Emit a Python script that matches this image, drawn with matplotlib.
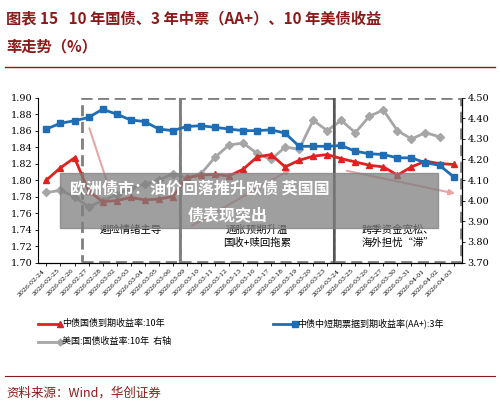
import matplotlib
matplotlib.use("Agg")
import matplotlib.pyplot as plt
from matplotlib.patches import Rectangle, FancyArrowPatch

plt.rcParams['font.family'] = ['Noto Sans CJK SC', 'DejaVu Sans']

dates = ["2026-02-24","2026-02-25","2026-02-26","2026-02-27","2026-02-28","2026-03-02","2026-03-03",
         "2026-03-04","2026-03-05","2026-03-06","2026-03-09","2026-03-10","2026-03-11","2026-03-12",
         "2026-03-13","2026-03-16","2026-03-17","2026-03-18","2026-03-19","2026-03-20","2026-03-23",
         "2026-03-24","2026-03-25","2026-03-26","2026-03-27","2026-03-30","2026-03-31","2026-04-01",
         "2026-04-02","2026-04-03"]
cn10y = [1.800,1.815,1.827,1.787,1.774,1.775,1.779,1.776,1.777,1.780,1.803,1.806,1.807,1.805,
         1.813,1.828,1.831,1.816,1.824,1.829,1.831,1.826,1.822,1.818,1.816,1.806,1.816,1.823,1.820,1.819]
aa3y = [1.862,1.869,1.872,1.876,1.886,1.880,1.873,1.871,1.862,1.860,1.865,1.866,1.864,1.862,
        1.860,1.860,1.861,1.857,1.841,1.841,1.841,1.842,1.835,1.832,1.831,1.827,1.827,1.821,1.818,1.804]
us10y = [4.04,4.05,4.02,3.97,4.00,4.03,4.06,4.08,4.10,4.13,4.11,4.13,4.21,4.27,4.28,4.23,4.20,
         4.26,4.25,4.39,4.34,4.39,4.33,4.41,4.44,4.34,4.30,4.33,4.31]

fig = plt.figure(figsize=(5, 4.07), dpi=100)
ax = fig.add_axes([0.076, 0.355, 0.848, 0.405])
x = list(range(len(dates)))
ax.plot(x, cn10y, color='#e0211f', marker='^', ms=4.5, lw=2, zorder=4)
ax.plot(x, aa3y, color='#1f6db5', marker='s', ms=4, lw=2, zorder=4)
ax2 = ax.twinx()
ax2.plot(x[:len(us10y)], us10y, color='#a6a6a6', marker='D', ms=4, lw=2, zorder=3)
ax.set_zorder(ax2.get_zorder() + 1); ax.patch.set_visible(False)

ax.set_ylim(1.70, 1.90); ax.set_yticks([1.70+0.02*i for i in range(11)])
ax.set_yticklabels([f"{1.70+0.02*i:.2f}" for i in range(11)], fontsize=7, family='DejaVu Serif')
ax2.set_ylim(3.70, 4.50); ax2.set_yticks([3.7+0.1*i for i in range(9)])
ax2.set_yticklabels([f"{3.7+0.1*i:.2f}" for i in range(9)], fontsize=7, family='DejaVu Serif')
ax.set_xlim(-0.6, len(dates) - 0.4)
ax.set_xticks(x)
ax.set_xticklabels(dates, rotation=45, ha='right', fontsize=4.5, family='DejaVu Serif')
for a in (ax, ax2):
    for s in ['top']:
        a.spines[s].set_visible(False)
    a.tick_params(length=2, width=0.6, pad=2)
ax2.spines['left'].set_visible(False)

# regime boxes
ax.add_patch(Rectangle((2.5, 1.701), 7, 0.199, fill=False, ls=(0,(4,2)), lw=2, ec='#7f7f7f', zorder=2))
ax.add_patch(Rectangle((9.5, 1.701), 11, 0.199, fill=False, ls=(0,(4,2)), lw=2, ec='#7f7f7f', zorder=2))
ax.add_patch(Rectangle((20.5, 1.701), 9, 0.199, fill=False, ls=(0,(4,2)), lw=2, ec='#7f7f7f', zorder=2))
ax.plot([9.5, 9.5], [1.701, 1.90], color='#7f7f7f', lw=1.5, zorder=2)
ax.plot([20.5, 20.5], [1.701, 1.90], color='#555555', lw=1.5, zorder=2)
for (x0, y0, x1, y1) in [(3.0, 1.866, 4.6, 1.783), (10.2, 1.743, 17.6, 1.815), (21.2, 1.812, 29.3, 1.783)]:
    ax.add_patch(FancyArrowPatch((x0, y0), (x1, y1), arrowstyle='-|>', mutation_scale=8,
                                 color='#e8a5a5', lw=1.5, zorder=1))
ax.text(6, 1.736, "避险情绪主导", ha='center', fontsize=7.5)
ax.text(15, 1.736, "通胀预期升温", ha='center', fontsize=7.5)
ax.text(15, 1.720, "国收+赎回拖累", ha='center', fontsize=7.5)
ax.text(25, 1.736, "跨季资金宽松、", ha='center', fontsize=7.5)
ax.text(25, 1.720, "海外担忧“滞”", ha='center', fontsize=7.5)

# title
fig.text(0.012, 0.955, "图表 15   10 年国债、3 年中票（AA+）、10 年美债收益", fontsize=11,
         color='#8b1a1a', weight='bold', va='center')
fig.text(0.012, 0.885, "率走势（%）", fontsize=11, color='#8b1a1a', weight='bold', va='center')
fig.add_artist(plt.Line2D([0.01, 0.99], [0.835, 0.835], color='#8b1a1a', lw=1))

# legend
fig.add_artist(plt.Line2D([0.075, 0.12], [0.205, 0.205], color='#e0211f', lw=2, marker='^', ms=4, markevery=[1]))
fig.text(0.125, 0.205, "中债国债到期收益率:10年", fontsize=6.5, va='center')
fig.add_artist(plt.Line2D([0.545, 0.59], [0.205, 0.205], color='#1f6db5', lw=2, marker='s', ms=4, markevery=[1]))
fig.text(0.595, 0.205, "中债中短期票据到期收益率(AA+):3年", fontsize=6.5, va='center')
fig.add_artist(plt.Line2D([0.075, 0.12], [0.16, 0.16], color='#a6a6a6', lw=2, marker='D', ms=3.5, markevery=[1]))
fig.text(0.125, 0.16, "美国:国债收益率:10年  右轴", fontsize=6.5, va='center')

fig.add_artist(plt.Line2D([0.01, 0.99], [0.075, 0.075], color='#8b1a1a', lw=0.8))
fig.text(0.012, 0.035, "资料来源：Wind，华创证券", fontsize=9, style='italic', color='#8b1a1a', va='center')

# overlay banner
fig.patches.append(Rectangle((0.12, 0.44), 0.756, 0.135, transform=fig.transFigure,
                             color='#7f7f7f', alpha=0.75, zorder=10))
fig.text(0.14, 0.538, "欧洲债市：油价回落推升欧债 英国国", fontsize=11.5, color='white',
         weight='bold', va='center', zorder=11)
fig.text(0.375, 0.47, "债表现突出", fontsize=11.5, color='white', weight='bold', va='center', zorder=11)

fig.savefig("out.png", dpi=100)
